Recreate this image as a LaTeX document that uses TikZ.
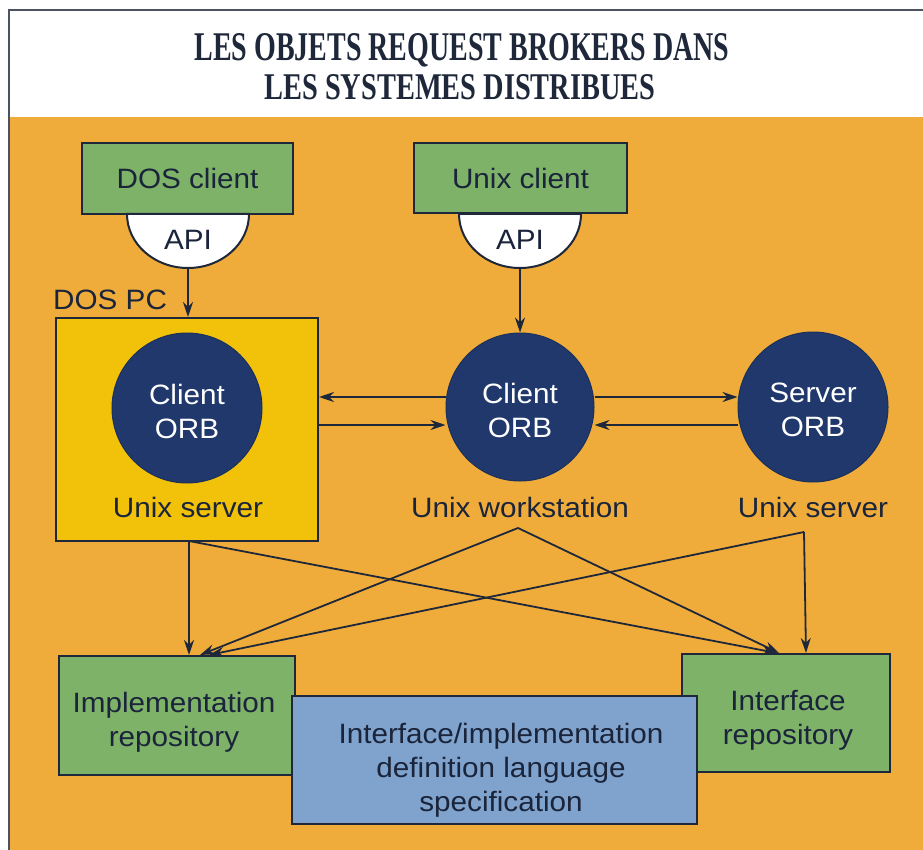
\documentclass[tikz,border=0pt]{standalone}
\usepackage{fontspec}
\setmainfont[FakeStretch=1.06]{Liberation Sans}
\newfontfamily\titlefont{Liberation Serif}
\usetikzlibrary{arrows.meta}
\definecolor{bgorange}{RGB}{240,172,58}
\definecolor{boxgreen}{RGB}{126,178,104}
\definecolor{pcyellow}{RGB}{242,194,10}
\definecolor{orbblue}{RGB}{32,56,108}
\definecolor{idlblue}{RGB}{128,163,205}
\definecolor{linecol}{RGB}{30,40,58}
\definecolor{textcol}{RGB}{26,36,58}
\newcommand\labfont{\fontsize{28}{34}\selectfont}
\begin{document}
\begin{tikzpicture}[x=1pt,y=-1pt,
  box/.style={draw=linecol, line width=2pt, inner sep=0pt},
  greenbox/.style={box, fill=boxgreen},
  orb/.style={circle, fill=orbblue, draw=orbblue!85!black, line width=1pt, minimum size=150pt, inner sep=0pt},
  lbl/.style={text=textcol, font=\labfont, inner sep=0pt, align=center},
  wlbl/.style={lbl, text=white},
  arr/.style={-{Stealth[length=15pt,width=10pt]}, line width=1.8pt, draw=linecol},
  ttl/.style={text=linecol, inner sep=0pt, anchor=base}]
\useasboundingbox (0,0) rectangle (923,850);
\fill[white] (0,0) rectangle (923,850);
\fill[bgorange] (9,117) rectangle (923,850);
\draw[linecol!80, line width=1.5pt] (9,850) -- (9,10) -- (923,10);

% title
\node[ttl] (t1) at (462,61) {\resizebox{535pt}{27pt}{\titlefont\bfseries LES OBJETS REQUEST BROKERS DANS}};
\node[ttl] (t2) at (460,100) {\resizebox{391pt}{25pt}{\titlefont\bfseries LES SYSTEMES DISTRIBUES}};

% clients with API
\node[greenbox, minimum width=211pt, minimum height=71pt] (dosclient) at (187.5,178.5) {};
\node[greenbox, minimum width=213pt, minimum height=70pt] (unixclient) at (520.5,178) {};
\node[lbl] (dosclientlbl) at (dosclient) {DOS client};
\node[lbl] (unixclientlbl) at (unixclient) {Unix client};
\draw[linecol, line width=2pt, fill=white] (127,214) arc[start angle=180, end angle=0, x radius=61, y radius=54] -- cycle;
\draw[linecol, line width=2pt, fill=white] (459,214) arc[start angle=180, end angle=0, x radius=61, y radius=54] -- cycle;
\node[lbl] (api1) at (188,240) {API};
\node[lbl] (api2) at (520,240) {API};
\coordinate (apiA) at (188,268);
\coordinate (apiB) at (520,268);

% DOS PC box
\node[box, fill=pcyellow, minimum width=262pt, minimum height=223pt] (dospc) at (187,429.5) {};
\node[lbl, anchor=west] (dospclbl) at (53,300) {DOS PC};

% ORBs
\node[orb] (orb1) at (187,408) {};
\node[orb, minimum size=148pt] (orb2) at (520,407) {};
\node[orb] (orb3) at (813,407) {};
\node[wlbl] (orb1lbl) at (187,411) {Client\\ORB};
\node[wlbl] (orb2lbl) at (520,410) {Client\\ORB};
\node[wlbl] (orb3lbl) at (813,410) {Server\\ORB};

\node[lbl] (us1) at (188,507) {Unix server};
\node[lbl] (uws) at (520,507) {Unix workstation};
\node[lbl] (us2) at (813,507) {Unix server};

% repositories
\node[greenbox, minimum width=236pt, minimum height=119pt] (implrepo) at (177,715.5) {};
\node[greenbox, minimum width=208pt, minimum height=118pt] (intrepo) at (786,713) {};
\node[lbl] (implrepolbl) at (174,722) {Implementation\\repository};
\node[lbl] (intrepolbl) at (788,720) {Interface\\repository};
\node[box, fill=idlblue, minimum width=405pt, minimum height=128pt] (idl) at (494.5,760) {};
\node[lbl] (idllbl) at (501,770) {Interface/implementation\\definition language\\specification};

% arrows from API
\draw[arr] (apiA) -- (dospc.north -| apiA);
\draw[arr] (apiB) -- (orb2.north);

% horizontal arrows
\draw[arr] (orb2.west |- 0,397) -- (dospc.east |- 0,397);
\draw[arr] (dospc.east |- 0,425) -- (orb2.west |- 0,425);
\draw[arr] (orb2.east |- 0,397) -- (orb3.west |- 0,397);
\draw[arr] (orb3.west |- 0,425) -- (orb2.east |- 0,425);

% lower arrows
\coordinate (pcs) at (189,541);
\coordinate (wss) at (518,528);
\coordinate (srs) at (804,532);
\draw[arr] (pcs) -- (implrepo.north -| pcs);
\draw[arr] (pcs) -- (intrepo.north -| 777,0);
\draw[arr] (wss) -- (implrepo.north -| 200,0);
\draw[arr] (wss) -- (intrepo.north -| 779,0);
\draw[arr] (srs) -- (implrepo.north -| 209,0);
\draw[arr] (srs) -- (intrepo.north -| 806,0);
\end{tikzpicture}
\end{document}
